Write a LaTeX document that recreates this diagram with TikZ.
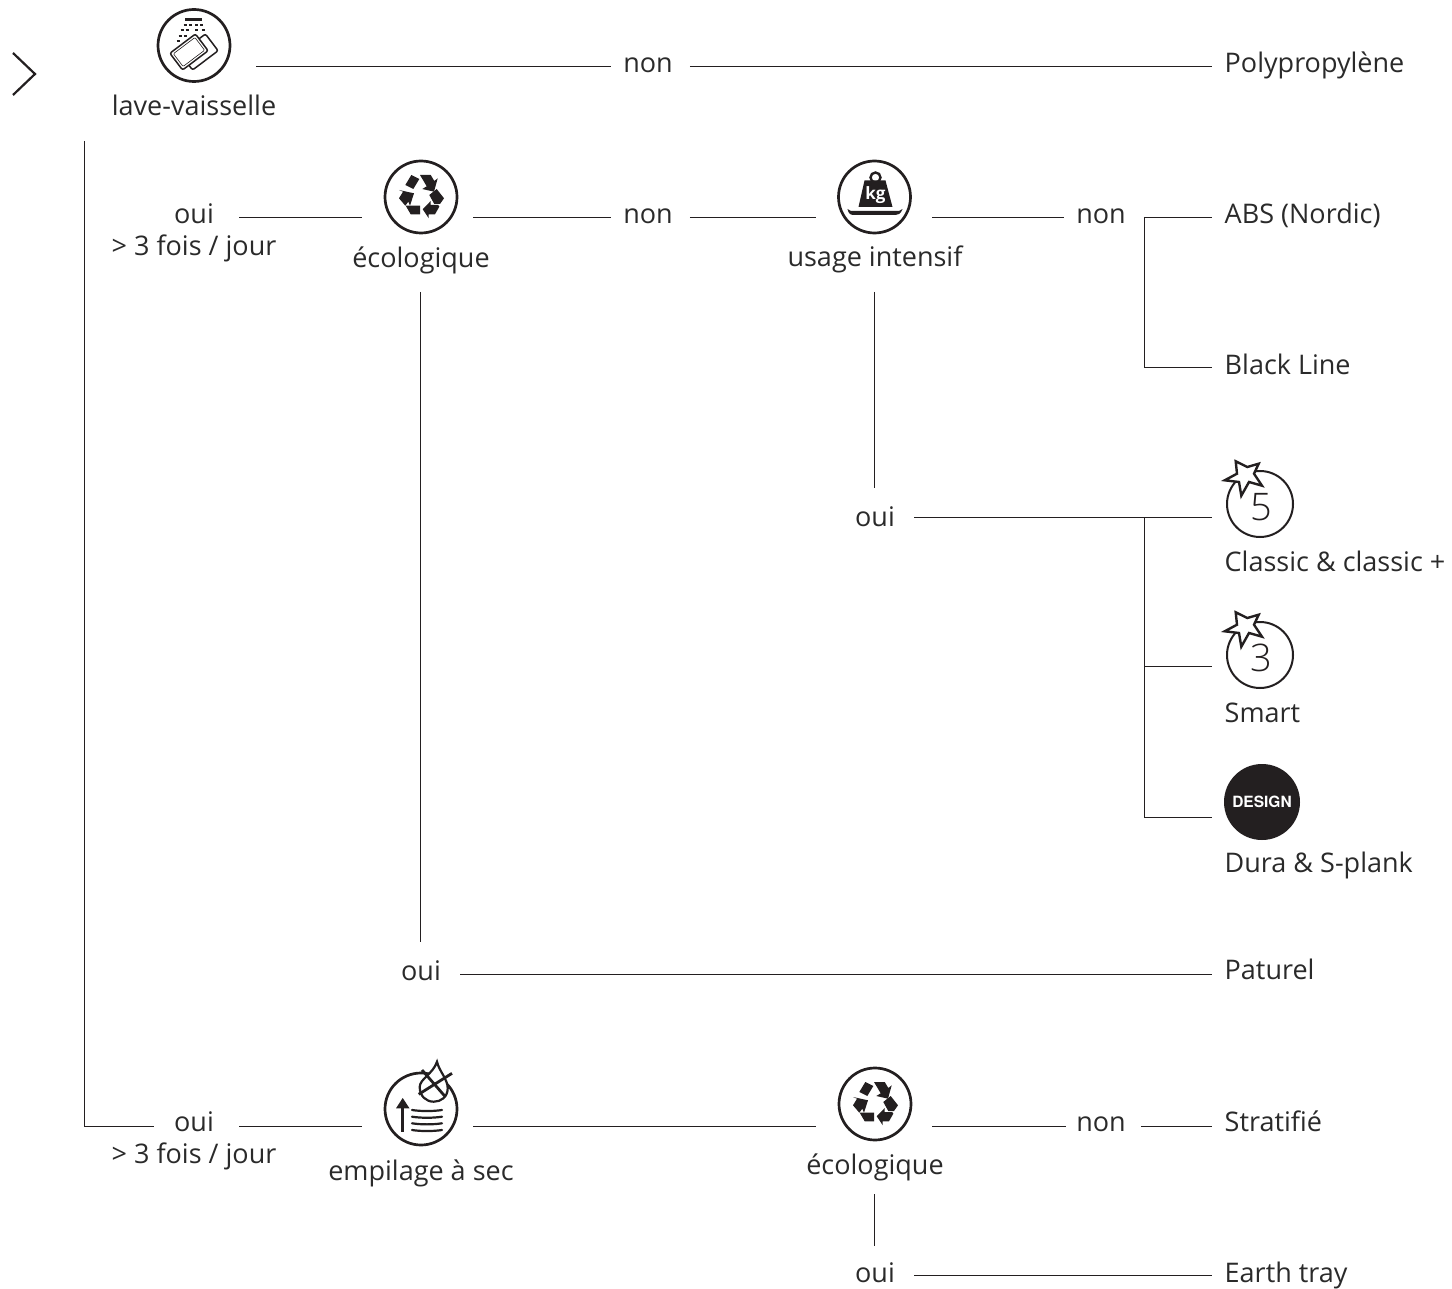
\documentclass[tikz,border=0pt]{standalone}
\usepackage{fontspec}
\setmainfont{Open Sans}
\newfontfamily\heros{TeX Gyre Heros}
\newfontfamily\lightf{Open Sans Light}
\definecolor{ink}{HTML}{231F20}
\definecolor{txt}{HTML}{2A2A2A}
\definecolor{wire}{HTML}{231F20}
\tikzset{
 x=1pt,y=-1pt,
 lb/.style={text=txt,font=\fontsize{27}{32}\selectfont,inner ysep=0pt,inner xsep=0pt,text depth=6pt,text height={6pt+2*#1pt}},
 lb/.default=7,
 capt/.style={text=txt,font=\fontsize{27}{32}\selectfont,inner sep=0pt,anchor=base},
 wirep/.style={draw=wire,line width=.9pt},
 ring/.style={circle,draw=ink,line width=2.7pt,minimum size=72pt,inner sep=0pt},
 ringb/.style={circle,draw=ink,line width=2pt,minimum size=66pt,inner sep=0pt},
 rimb/.style={draw=ink,line width=1.5pt,rounded corners=2pt,fill=white},
 rimt/.style={draw=ink,line width=.6pt,rounded corners=1pt},
 stackl/.style={draw=ink,line width=2.2pt,line cap=round},
 starp/.style={draw=ink,fill=white,line width=2.4pt,line join=miter},
}
\newcommand{\recyc}[1]{%
 \begin{scope}[shift={(#1)}]
  \fill[ink] (-15.7,-12) -- (-9.7,-22) -- (-1.7,-18) -- (-7.7,-8) -- cycle;
  \fill[ink] (-1,-22) -- (9.7,-22) -- (13.3,-16) -- (16.7,-18.7) -- (13,-5.3) -- (1.3,-8) -- (5.7,-10.7) -- cycle;
  \fill[ink] (8.3,-2) -- (15.7,-8) -- (23,1.3) -- (19,7) -- (13.3,7) -- cycle;
  \fill[ink] (17.3,8) -- (9.7,8) -- (9.7,4) -- (1.7,12.3) -- (7.7,21.3) -- (7.7,17.3) -- (14,17.3) -- (18.3,9.7) -- cycle;
  \fill[ink] (-15.3,8.7) -- (-1,8.7) -- (-1,17.3) -- (-10.3,17.3) -- cycle;
  \fill[ink] (-22,1.3) -- (-18,-5.3) -- (-22,-7) -- (-7,-3.7) -- (-11,8.7) -- (-12.7,4.7) -- (-15.7,8.7) -- cycle;
 \end{scope}}
\newcommand{\burst}[2]{%
 \node[ringb] (#2) at (#1) {};
 \begin{scope}[shift={(#1)},shift={(-17,-27)}]
 \path[starp] (-7.3,-15.7) -- (4.3,-10) -- (15.7,-13.3) -- (11,-3.3) -- (19,8.7) -- (6,5) -- (-1.7,18.7) -- (-4,5) -- (-18.3,3.3) -- (-6,-3.3) -- cycle;
 \end{scope}}
\begin{document}
\begin{tikzpicture}
\useasboundingbox (0,0) rectangle (1452,1289);
% chevron
\draw[draw=ink,line width=2.2pt,line join=miter] (13,53) -- (35,74) -- (13,95);
% icons
\node[ring] (dish) at (194,45.5) {};
\begin{scope}[shift={(194,45.5)}]
 \fill[ink] (-9,-27) rectangle (8,-24.5);
 \foreach \a/\c in {-9/-20.7,-4/-20.7,2.7/-20.7,7.7/-20.7,-12/-15,-7/-15,2.7/-15,9/-15,-14/-9.7,-9/-9.7,-16/-4}{
  \draw[ink,line width=2pt] (\a-1.5,\c) -- (\a+1.5,\c);
 }
 \begin{scope}[shift={(5,6.5)},rotate=37]
  \path[rimb] (-16,-10.5) rectangle (16,10.5);
 \end{scope}
 \begin{scope}[shift={(-5,6.5)},rotate=37]
  \path[rimb] (-16,-10.5) rectangle (16,10.5);
  \draw[rimt] (-13.5,-8) rectangle (13.5,8);
 \end{scope}
\end{scope}
\node[ring] (eco) at (421,197) {};
\recyc{421,197}
\node[ring] (kg) at (874.5,197) {};
\begin{scope}[shift={(874.5,197)}]
 \draw[ink,line width=2.4pt] (1,-19.5) circle (5);
 \fill[ink] (-10,-16.5) -- (11,-16.5) -- (18,10) -- (-16,10) -- cycle;
 \node[text=white,font=\bfseries\fontsize{17}{17}\selectfont,inner sep=0pt] (kgt) at (1,-2) {kg};
 \fill[ink] (-27,12) .. controls (-25,14) and (-23,14) .. (-20,14) -- (21,14) .. controls (24,14) and (26,14) .. (28,12) .. controls (26,17) and (24,18) .. (21,18) -- (-20,18) .. controls (-24,18) and (-26,17) .. (-27,12) -- cycle;
\end{scope}
\node[ring] (sta) at (421,1109) {};
\begin{scope}[shift={(421,1109)}]
 \draw[ink,line width=2.8pt] (-18.3,22.7) -- (-18.3,-2);
 \fill[ink] (-25,-.7) -- (-18.3,-11) -- (-11.5,-.7) -- cycle;
 \foreach \y in {1,7.7,14.3,21}{
  \draw[stackl] (-9,\y) .. controls (0,\y+1.4) and (12,\y+1.4) .. (21,\y);
 }
 \path[draw=ink,fill=white,line width=2.2pt] (16,-47.3) .. controls (18,-38) and (26.7,-30) .. (26.7,-20.7) .. controls (26.7,-12) and (20,-7.3) .. (12.7,-7.3) .. controls (5,-7.3) and (-1.3,-13) .. (-1.3,-22) .. controls (-1.3,-30) and (12,-35) .. (16,-47.3) -- cycle;
 \draw[ink,line width=2.8pt] (-2.3,-14.7) -- (31,-35.7);
 \draw[ink,line width=2.8pt] (1,-39) -- (24.3,-12.3);
\end{scope}
\node[ring] (eco2) at (875,1104) {};
\recyc{875,1104}
\burst{1260,504}{b5}
\node[text=ink,font=\lightf\fontsize{38}{38}\selectfont,inner sep=0pt] (n5) at (1261.5,507) {5};
\burst{1260,655}{b3}
\node[text=ink,font=\lightf\fontsize{38}{38}\selectfont,inner sep=0pt] (n3) at (1261.5,658) {3};
\node[circle,fill=ink,minimum size=76pt,inner sep=0pt,text=white,font=\heros\bfseries\fontsize{15.5}{16}\selectfont] (dsg) at (1262,802) {DESIGN};
% captions
\node[capt] (cdish) at (194,116) {lave-vaisselle};
\node[capt] (ceco) at (421,268) {écologique};
\node[capt] (ckg) at (875,267) {usage intensif};
\node[capt] (csta) at (421,1180) {empilage à sec};
\node[capt] (ceco2) at (875,1174) {écologique};
\node[capt] (f1) at (194,256) {> 3 fois / jour};
\node[capt] (f2) at (194,1163) {> 3 fois / jour};
% free ends
\coordinate (s1) at (256,66);
\coordinate (s2w) at (362,217);
\coordinate (s2e) at (473,217);
\coordinate (s3w) at (816,217);
\coordinate (s3e) at (932,217);
\coordinate (s4w) at (362,1126);
\coordinate (s4e) at (473,1126);
\coordinate (s5w) at (816,1126);
\coordinate (s5e) at (932,1126);
\coordinate (v1t) at (420,292);
\coordinate (v2t) at (874,292);
\coordinate (v3t) at (874,1194);
\coordinate (ltop) at (84,141);
\coordinate (lbot) at (84,1126);
\coordinate (j1) at (1144,217);
\coordinate (j2) at (1144,367);
\coordinate (j3) at (1144,517);
\coordinate (j4) at (1144,666);
\coordinate (j5) at (1144,817);
% labels on rows
\node[lb] (non1) at (648,66) {non};
\node[lb,anchor=west] (poly) at (1224.5,66) {Polypropylène};
\node[lb] (oui1) at (194,217) {oui};
\node[lb] (non2) at (648,217) {non};
\node[lb] (non3) at (1101,217) {non};
\node[lb,anchor=west] (abs) at (1224.5,217) {ABS (Nordic)};
\node[lb,anchor=west] (bl) at (1224.5,367) {Black Line};
\node[lb=9] (oui2) at (875,517) {oui};
\node[capt,anchor=base west] (clas) at (1224.5,571) {Classic \& classic +};
\node[capt,anchor=base west] (sm) at (1224.5,722) {Smart};
\node[capt,anchor=base west] (dura) at (1224.5,872) {Dura \& S-plank};
\node[lb=6] (oui3) at (421,974) {oui};
\node[lb=5,anchor=west] (pat) at (1224.5,974) {Paturel};
\node[lb=5] (oui4) at (194,1126) {oui};
\node[lb=5] (non4) at (1101,1126) {non};
\node[lb=5,anchor=west] (str) at (1224.5,1126) {Stratifié};
\node[lb] (oui5) at (875,1275) {oui};
\node[lb,anchor=west] (earth) at (1224.5,1275) {Earth tray};
% connectors
\begin{scope}[wirep]
\draw[shorten >=12pt] (s1) -- (non1.west);
\draw[shorten <=17pt,shorten >=13pt] (non1.east) -- (poly.west);
\draw[shorten <=25pt] (oui1.east) -- (s2w);
\draw[shorten >=12pt] (s2e) -- (non2.west);
\draw[shorten <=17pt] (non2.east) -- (s3w);
\draw[shorten >=12pt] (s3e) -- (non3.west);
\draw[shorten <=18pt] (non3.east) -- (j1);
\draw[shorten >=13pt] (j1) -- (abs.west);
\draw (j1) -- (j2);
\draw[shorten >=13pt] (j2) -- (bl.west);
\draw[shorten >=20pt] (v1t) -- (v1t |- oui3.north);
\draw[shorten >=14pt] (v2t) -- (v2t |- oui2.north);
\draw[shorten <=19pt] (oui2.east) -- (j3);
\draw[shorten >=13pt] (j3) -- (j3 -| clas.west);
\draw (j3) -- (j5);
\draw[shorten >=13pt] (j4) -- (j4 -| sm.west);
\draw[shorten >=13pt] (j5) -- (j5 -| dura.west);
\draw[shorten <=19pt,shorten >=13pt] (oui3.east) -- (pat.west);
\draw (ltop) -- (lbot);
\draw[shorten >=20pt] (lbot) -- (oui4.west);
\draw[shorten <=25pt] (oui4.east) -- (s4w);
\draw (s4e) -- (s5w);
\draw[shorten >=10pt] (s5e) -- (non4.west);
\draw[shorten <=15pt,shorten >=13pt] (non4.east) -- (str.west);
\draw[shorten >=16pt] (v3t) -- (v3t |- oui5.north);
\draw[shorten <=19pt,shorten >=13pt] (oui5.east) -- (earth.west);
\end{scope}
\end{tikzpicture}
\end{document}
